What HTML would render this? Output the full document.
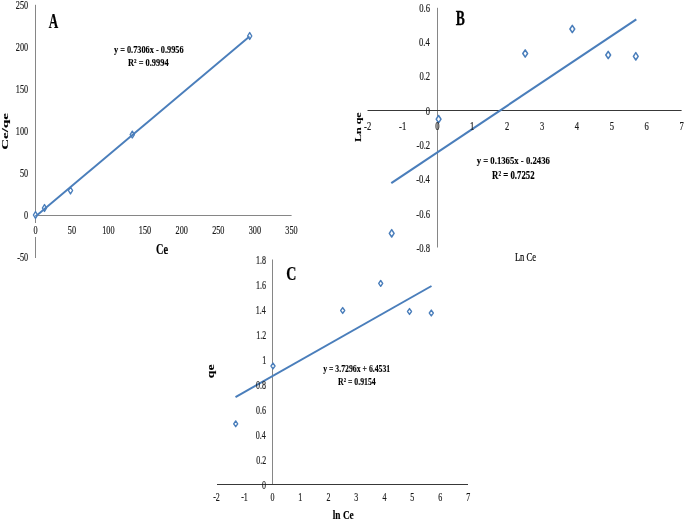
<!DOCTYPE html>
<html><head><meta charset="utf-8"><style>
html,body{margin:0;padding:0;background:#fff;}
svg{display:block;filter:blur(0.3px);}
text{font-family:"Liberation Serif",serif;}
</style></head><body>
<svg width="685" height="520" viewBox="0 0 685 520">
<rect width="685" height="520" fill="#fff"/>
<line x1="35.5" y1="4.8" x2="35.5" y2="258" stroke="#868686" stroke-width="1"/>
<line x1="35.5" y1="215.5" x2="291.6" y2="215.5" stroke="#868686" stroke-width="1"/>
<rect x="32" y="223" width="7" height="14" fill="#fff"/>
<path d="M35.5,211.6 L37.6,215 L35.5,218.4 L33.4,215 Z" fill="#fff" stroke="#4a7ebb" stroke-width="1.4" stroke-linejoin="round"/>
<path d="M44.5,204.6 L46.6,208 L44.5,211.4 L42.4,208 Z" fill="#fff" stroke="#4a7ebb" stroke-width="1.4" stroke-linejoin="round"/>
<path d="M70.5,187.1 L72.6,190.5 L70.5,193.9 L68.4,190.5 Z" fill="#fff" stroke="#4a7ebb" stroke-width="1.4" stroke-linejoin="round"/>
<path d="M132.3,131.2 L134.4,134.6 L132.3,138 L130.2,134.6 Z" fill="#fff" stroke="#4a7ebb" stroke-width="1.4" stroke-linejoin="round"/>
<path d="M249.7,32.6 L251.8,36 L249.7,39.4 L247.6,36 Z" fill="#fff" stroke="#4a7ebb" stroke-width="1.4" stroke-linejoin="round"/>
<line x1="35.5" y1="216.6" x2="249.5" y2="36.6" stroke="#4a7ebb" stroke-width="1.9"/>
<line x1="437.5" y1="7.8" x2="437.5" y2="247.5" stroke="#868686" stroke-width="1"/>
<line x1="367.5" y1="110.5" x2="681.6" y2="110.5" stroke="#383838" stroke-width="1"/>
<path d="M391.7,229.6 L394.1,233.3 L391.7,237 L389.3,233.3 Z" fill="#fff" stroke="#4a7ebb" stroke-width="1.5" stroke-linejoin="round"/>
<path d="M438.6,115.5 L441,119.2 L438.6,122.9 L436.2,119.2 Z" fill="#fff" stroke="#4a7ebb" stroke-width="1.5" stroke-linejoin="round"/>
<path d="M525.2,49.8 L527.6,53.5 L525.2,57.2 L522.8,53.5 Z" fill="#fff" stroke="#4a7ebb" stroke-width="1.5" stroke-linejoin="round"/>
<path d="M572.3,25.3 L574.7,29 L572.3,32.7 L569.9,29 Z" fill="#fff" stroke="#4a7ebb" stroke-width="1.5" stroke-linejoin="round"/>
<path d="M608.2,51.3 L610.6,55 L608.2,58.7 L605.8,55 Z" fill="#fff" stroke="#4a7ebb" stroke-width="1.5" stroke-linejoin="round"/>
<path d="M635.8,52.6 L638.2,56.3 L635.8,60 L633.4,56.3 Z" fill="#fff" stroke="#4a7ebb" stroke-width="1.5" stroke-linejoin="round"/>
<line x1="391.3" y1="183.2" x2="636.3" y2="19.4" stroke="#4a7ebb" stroke-width="2.1"/>
<line x1="272.5" y1="259.5" x2="272.5" y2="484.4" stroke="#868686" stroke-width="1"/>
<line x1="217" y1="484.5" x2="468" y2="484.5" stroke="#383838" stroke-width="1"/>
<path d="M235.7,420.9 L237.7,423.8 L235.7,426.7 L233.7,423.8 Z" fill="#fff" stroke="#4a7ebb" stroke-width="1.4" stroke-linejoin="round"/>
<path d="M273,363.1 L275,366 L273,368.9 L271,366 Z" fill="#fff" stroke="#4a7ebb" stroke-width="1.4" stroke-linejoin="round"/>
<path d="M342.7,307.6 L344.7,310.5 L342.7,313.4 L340.7,310.5 Z" fill="#fff" stroke="#4a7ebb" stroke-width="1.4" stroke-linejoin="round"/>
<path d="M380.7,280.5 L382.7,283.4 L380.7,286.3 L378.7,283.4 Z" fill="#fff" stroke="#4a7ebb" stroke-width="1.4" stroke-linejoin="round"/>
<path d="M409.5,308.6 L411.5,311.5 L409.5,314.4 L407.5,311.5 Z" fill="#fff" stroke="#4a7ebb" stroke-width="1.4" stroke-linejoin="round"/>
<path d="M431.3,310.1 L433.3,313 L431.3,315.9 L429.3,313 Z" fill="#fff" stroke="#4a7ebb" stroke-width="1.4" stroke-linejoin="round"/>
<line x1="235.5" y1="397.1" x2="431.5" y2="286" stroke="#4a7ebb" stroke-width="2.0"/>
<text transform="translate(17.24,261.14) scale(0.08230,0.12700)" font-size="100" font-weight="normal" fill="#1a1a1a" stroke="#1a1a1a" stroke-width="1.6">-50</text>
<text transform="translate(24.1,219.16) scale(0.08230,0.12700)" font-size="100" font-weight="normal" fill="#1a1a1a" stroke="#1a1a1a" stroke-width="1.6">0</text>
<text transform="translate(19.98,177.18) scale(0.08230,0.12700)" font-size="100" font-weight="normal" fill="#1a1a1a" stroke="#1a1a1a" stroke-width="1.6">50</text>
<text transform="translate(15.87,135.2) scale(0.08230,0.12700)" font-size="100" font-weight="normal" fill="#1a1a1a" stroke="#1a1a1a" stroke-width="1.6">100</text>
<text transform="translate(15.87,93.22) scale(0.08230,0.12700)" font-size="100" font-weight="normal" fill="#1a1a1a" stroke="#1a1a1a" stroke-width="1.6">150</text>
<text transform="translate(15.87,51.24) scale(0.08230,0.12700)" font-size="100" font-weight="normal" fill="#1a1a1a" stroke="#1a1a1a" stroke-width="1.6">200</text>
<text transform="translate(15.87,9.26) scale(0.08230,0.12700)" font-size="100" font-weight="normal" fill="#1a1a1a" stroke="#1a1a1a" stroke-width="1.6">250</text>
<text transform="translate(33.44,234.11) scale(0.08230,0.12700)" font-size="100" font-weight="normal" fill="#1a1a1a" stroke="#1a1a1a" stroke-width="1.6">0</text>
<text transform="translate(67.87,234.11) scale(0.08230,0.12700)" font-size="100" font-weight="normal" fill="#1a1a1a" stroke="#1a1a1a" stroke-width="1.6">50</text>
<text transform="translate(102.26,234.11) scale(0.08230,0.12700)" font-size="100" font-weight="normal" fill="#1a1a1a" stroke="#1a1a1a" stroke-width="1.6">100</text>
<text transform="translate(138.83,234.11) scale(0.08230,0.12700)" font-size="100" font-weight="normal" fill="#1a1a1a" stroke="#1a1a1a" stroke-width="1.6">150</text>
<text transform="translate(175.58,234.11) scale(0.08230,0.12700)" font-size="100" font-weight="normal" fill="#1a1a1a" stroke="#1a1a1a" stroke-width="1.6">200</text>
<text transform="translate(212.15,234.11) scale(0.08230,0.12700)" font-size="100" font-weight="normal" fill="#1a1a1a" stroke="#1a1a1a" stroke-width="1.6">250</text>
<text transform="translate(248.71,234.11) scale(0.08230,0.12700)" font-size="100" font-weight="normal" fill="#1a1a1a" stroke="#1a1a1a" stroke-width="1.6">300</text>
<text transform="translate(285.28,234.11) scale(0.08230,0.12700)" font-size="100" font-weight="normal" fill="#1a1a1a" stroke="#1a1a1a" stroke-width="1.6">350</text>
<text transform="translate(156.04,254.11) scale(0.10357,0.13542)" font-size="100" font-weight="bold" fill="#000" stroke="#000" stroke-width="1.2">Ce</text>
<text transform="translate(7.58,149.79) scale(0.09257,0.15027) rotate(-90)" font-size="100" font-weight="bold" fill="#000" stroke="#000" stroke-width="1.2">Ce/qe</text>
<text transform="translate(48.72,28.25) scale(0.13050,0.20606)" font-size="100" font-weight="bold" fill="#000" stroke="#000" stroke-width="1.2">A</text>
<text transform="translate(113.97,53.02) scale(0.08286,0.10329)" font-size="100" font-weight="bold" fill="#000" stroke="#000" stroke-width="1.2">y = 0.7306x - 0.9956</text>
<text transform="translate(128.01,66.1) scale(0.08385,0.10457)" font-size="100" font-weight="bold" fill="#000" stroke="#000" stroke-width="1.2">R² = 0.9994</text>
<text transform="translate(419.19,11.78) scale(0.08618,0.13300)" font-size="100" font-weight="normal" fill="#1a1a1a" stroke="#1a1a1a" stroke-width="1.6">0.6</text>
<text transform="translate(419.06,46.08) scale(0.08618,0.13300)" font-size="100" font-weight="normal" fill="#1a1a1a" stroke="#1a1a1a" stroke-width="1.6">0.4</text>
<text transform="translate(419.4,80.38) scale(0.08618,0.13300)" font-size="100" font-weight="normal" fill="#1a1a1a" stroke="#1a1a1a" stroke-width="1.6">0.2</text>
<text transform="translate(425.72,114.71) scale(0.08618,0.13300)" font-size="100" font-weight="normal" fill="#1a1a1a" stroke="#1a1a1a" stroke-width="1.6">0</text>
<text transform="translate(416.53,148.98) scale(0.08618,0.13300)" font-size="100" font-weight="normal" fill="#1a1a1a" stroke="#1a1a1a" stroke-width="1.6">-0.2</text>
<text transform="translate(416.19,183.28) scale(0.08618,0.13300)" font-size="100" font-weight="normal" fill="#1a1a1a" stroke="#1a1a1a" stroke-width="1.6">-0.4</text>
<text transform="translate(416.32,217.58) scale(0.08618,0.13300)" font-size="100" font-weight="normal" fill="#1a1a1a" stroke="#1a1a1a" stroke-width="1.6">-0.6</text>
<text transform="translate(416.38,251.88) scale(0.08618,0.13300)" font-size="100" font-weight="normal" fill="#1a1a1a" stroke="#1a1a1a" stroke-width="1.6">-0.8</text>
<text transform="translate(364.09,130.4) scale(0.08618,0.13300)" font-size="100" font-weight="normal" fill="#1a1a1a" stroke="#1a1a1a" stroke-width="1.6">-2</text>
<text transform="translate(399.01,130.39) scale(0.08618,0.13300)" font-size="100" font-weight="normal" fill="#1a1a1a" stroke="#1a1a1a" stroke-width="1.6">-1</text>
<text transform="translate(435.25,130.36) scale(0.08618,0.13300)" font-size="100" font-weight="normal" fill="#1a1a1a" stroke="#1a1a1a" stroke-width="1.6">0</text>
<text transform="translate(470.02,130.39) scale(0.08618,0.13300)" font-size="100" font-weight="normal" fill="#1a1a1a" stroke="#1a1a1a" stroke-width="1.6">1</text>
<text transform="translate(505.09,130.4) scale(0.08618,0.13300)" font-size="100" font-weight="normal" fill="#1a1a1a" stroke="#1a1a1a" stroke-width="1.6">2</text>
<text transform="translate(539.91,130.34) scale(0.08618,0.13300)" font-size="100" font-weight="normal" fill="#1a1a1a" stroke="#1a1a1a" stroke-width="1.6">3</text>
<text transform="translate(574.83,130.38) scale(0.08618,0.13300)" font-size="100" font-weight="normal" fill="#1a1a1a" stroke="#1a1a1a" stroke-width="1.6">4</text>
<text transform="translate(609.66,130.29) scale(0.08618,0.13300)" font-size="100" font-weight="normal" fill="#1a1a1a" stroke="#1a1a1a" stroke-width="1.6">5</text>
<text transform="translate(644.59,130.34) scale(0.08618,0.13300)" font-size="100" font-weight="normal" fill="#1a1a1a" stroke="#1a1a1a" stroke-width="1.6">6</text>
<text transform="translate(679.39,130.36) scale(0.08618,0.13300)" font-size="100" font-weight="normal" fill="#1a1a1a" stroke="#1a1a1a" stroke-width="1.6">7</text>
<text transform="translate(514.9,260.52) scale(0.08513,0.13393)" font-size="100" font-weight="normal" fill="#000" stroke="#000" stroke-width="1.6">Ln Ce</text>
<text transform="translate(360.84,141.95) scale(0.08986,0.11975) rotate(-90)" font-size="100" font-weight="bold" fill="#000" stroke="#000" stroke-width="1.2">Ln qe</text>
<text transform="translate(455.72,24.69) scale(0.13666,0.21429)" font-size="100" font-weight="bold" fill="#000" stroke="#000" stroke-width="1.2">B</text>
<text transform="translate(476.66,163.9) scale(0.08728,0.10897)" font-size="100" font-weight="bold" fill="#000" stroke="#000" stroke-width="1.2">y = 0.1365x - 0.2436</text>
<text transform="translate(492.1,178.58) scale(0.08783,0.12224)" font-size="100" font-weight="bold" fill="#000" stroke="#000" stroke-width="1.2">R² = 0.7252</text>
<text transform="translate(256,263.57) scale(0.08000,0.12500)" font-size="100" font-weight="normal" fill="#1a1a1a" stroke="#1a1a1a" stroke-width="1.6">1.8</text>
<text transform="translate(255.94,288.55) scale(0.08000,0.12500)" font-size="100" font-weight="normal" fill="#1a1a1a" stroke="#1a1a1a" stroke-width="1.6">1.6</text>
<text transform="translate(255.83,313.54) scale(0.08000,0.12500)" font-size="100" font-weight="normal" fill="#1a1a1a" stroke="#1a1a1a" stroke-width="1.6">1.4</text>
<text transform="translate(256.14,338.55) scale(0.08000,0.12500)" font-size="100" font-weight="normal" fill="#1a1a1a" stroke="#1a1a1a" stroke-width="1.6">1.2</text>
<text transform="translate(262.18,363.62) scale(0.08000,0.12500)" font-size="100" font-weight="normal" fill="#1a1a1a" stroke="#1a1a1a" stroke-width="1.6">1</text>
<text transform="translate(256,388.57) scale(0.08000,0.12500)" font-size="100" font-weight="normal" fill="#1a1a1a" stroke="#1a1a1a" stroke-width="1.6">0.8</text>
<text transform="translate(255.94,413.57) scale(0.08000,0.12500)" font-size="100" font-weight="normal" fill="#1a1a1a" stroke="#1a1a1a" stroke-width="1.6">0.6</text>
<text transform="translate(255.83,438.57) scale(0.08000,0.12500)" font-size="100" font-weight="normal" fill="#1a1a1a" stroke="#1a1a1a" stroke-width="1.6">0.4</text>
<text transform="translate(256.14,463.57) scale(0.08000,0.12500)" font-size="100" font-weight="normal" fill="#1a1a1a" stroke="#1a1a1a" stroke-width="1.6">0.2</text>
<text transform="translate(262,488.59) scale(0.08000,0.12500)" font-size="100" font-weight="normal" fill="#1a1a1a" stroke="#1a1a1a" stroke-width="1.6">0</text>
<text transform="translate(213.14,501.24) scale(0.08000,0.12500)" font-size="100" font-weight="normal" fill="#1a1a1a" stroke="#1a1a1a" stroke-width="1.6">-2</text>
<text transform="translate(241.16,501.23) scale(0.08000,0.12500)" font-size="100" font-weight="normal" fill="#1a1a1a" stroke="#1a1a1a" stroke-width="1.6">-1</text>
<text transform="translate(270.4,501.19) scale(0.08000,0.12500)" font-size="100" font-weight="normal" fill="#1a1a1a" stroke="#1a1a1a" stroke-width="1.6">0</text>
<text transform="translate(298.29,501.23) scale(0.08000,0.12500)" font-size="100" font-weight="normal" fill="#1a1a1a" stroke="#1a1a1a" stroke-width="1.6">1</text>
<text transform="translate(326.44,501.24) scale(0.08000,0.12500)" font-size="100" font-weight="normal" fill="#1a1a1a" stroke="#1a1a1a" stroke-width="1.6">2</text>
<text transform="translate(354.36,501.18) scale(0.08000,0.12500)" font-size="100" font-weight="normal" fill="#1a1a1a" stroke="#1a1a1a" stroke-width="1.6">3</text>
<text transform="translate(382.38,501.21) scale(0.08000,0.12500)" font-size="100" font-weight="normal" fill="#1a1a1a" stroke="#1a1a1a" stroke-width="1.6">4</text>
<text transform="translate(410.32,501.13) scale(0.08000,0.12500)" font-size="100" font-weight="normal" fill="#1a1a1a" stroke="#1a1a1a" stroke-width="1.6">5</text>
<text transform="translate(438.35,501.18) scale(0.08000,0.12500)" font-size="100" font-weight="normal" fill="#1a1a1a" stroke="#1a1a1a" stroke-width="1.6">6</text>
<text transform="translate(466.25,501.19) scale(0.08000,0.12500)" font-size="100" font-weight="normal" fill="#1a1a1a" stroke="#1a1a1a" stroke-width="1.6">7</text>
<text transform="translate(332.76,518.52) scale(0.09347,0.12926)" font-size="100" font-weight="bold" fill="#000" stroke="#000" stroke-width="1.2">ln Ce</text>
<text transform="translate(213.55,378.22) scale(0.10807,0.13826) rotate(-90)" font-size="100" font-weight="bold" fill="#000" stroke="#000" stroke-width="1.2">qe</text>
<text transform="translate(286.16,280.16) scale(0.14070,0.18899)" font-size="100" font-weight="bold" fill="#000" stroke="#000" stroke-width="1.2">C</text>
<text transform="translate(323.17,371.98) scale(0.07776,0.09567)" font-size="100" font-weight="bold" fill="#000" stroke="#000" stroke-width="1.2">y = 3.7296x + 6.4531</text>
<text transform="translate(338.02,384.5) scale(0.07803,0.10604)" font-size="100" font-weight="bold" fill="#000" stroke="#000" stroke-width="1.2">R² = 0.9154</text>
</svg>
</body></html>
